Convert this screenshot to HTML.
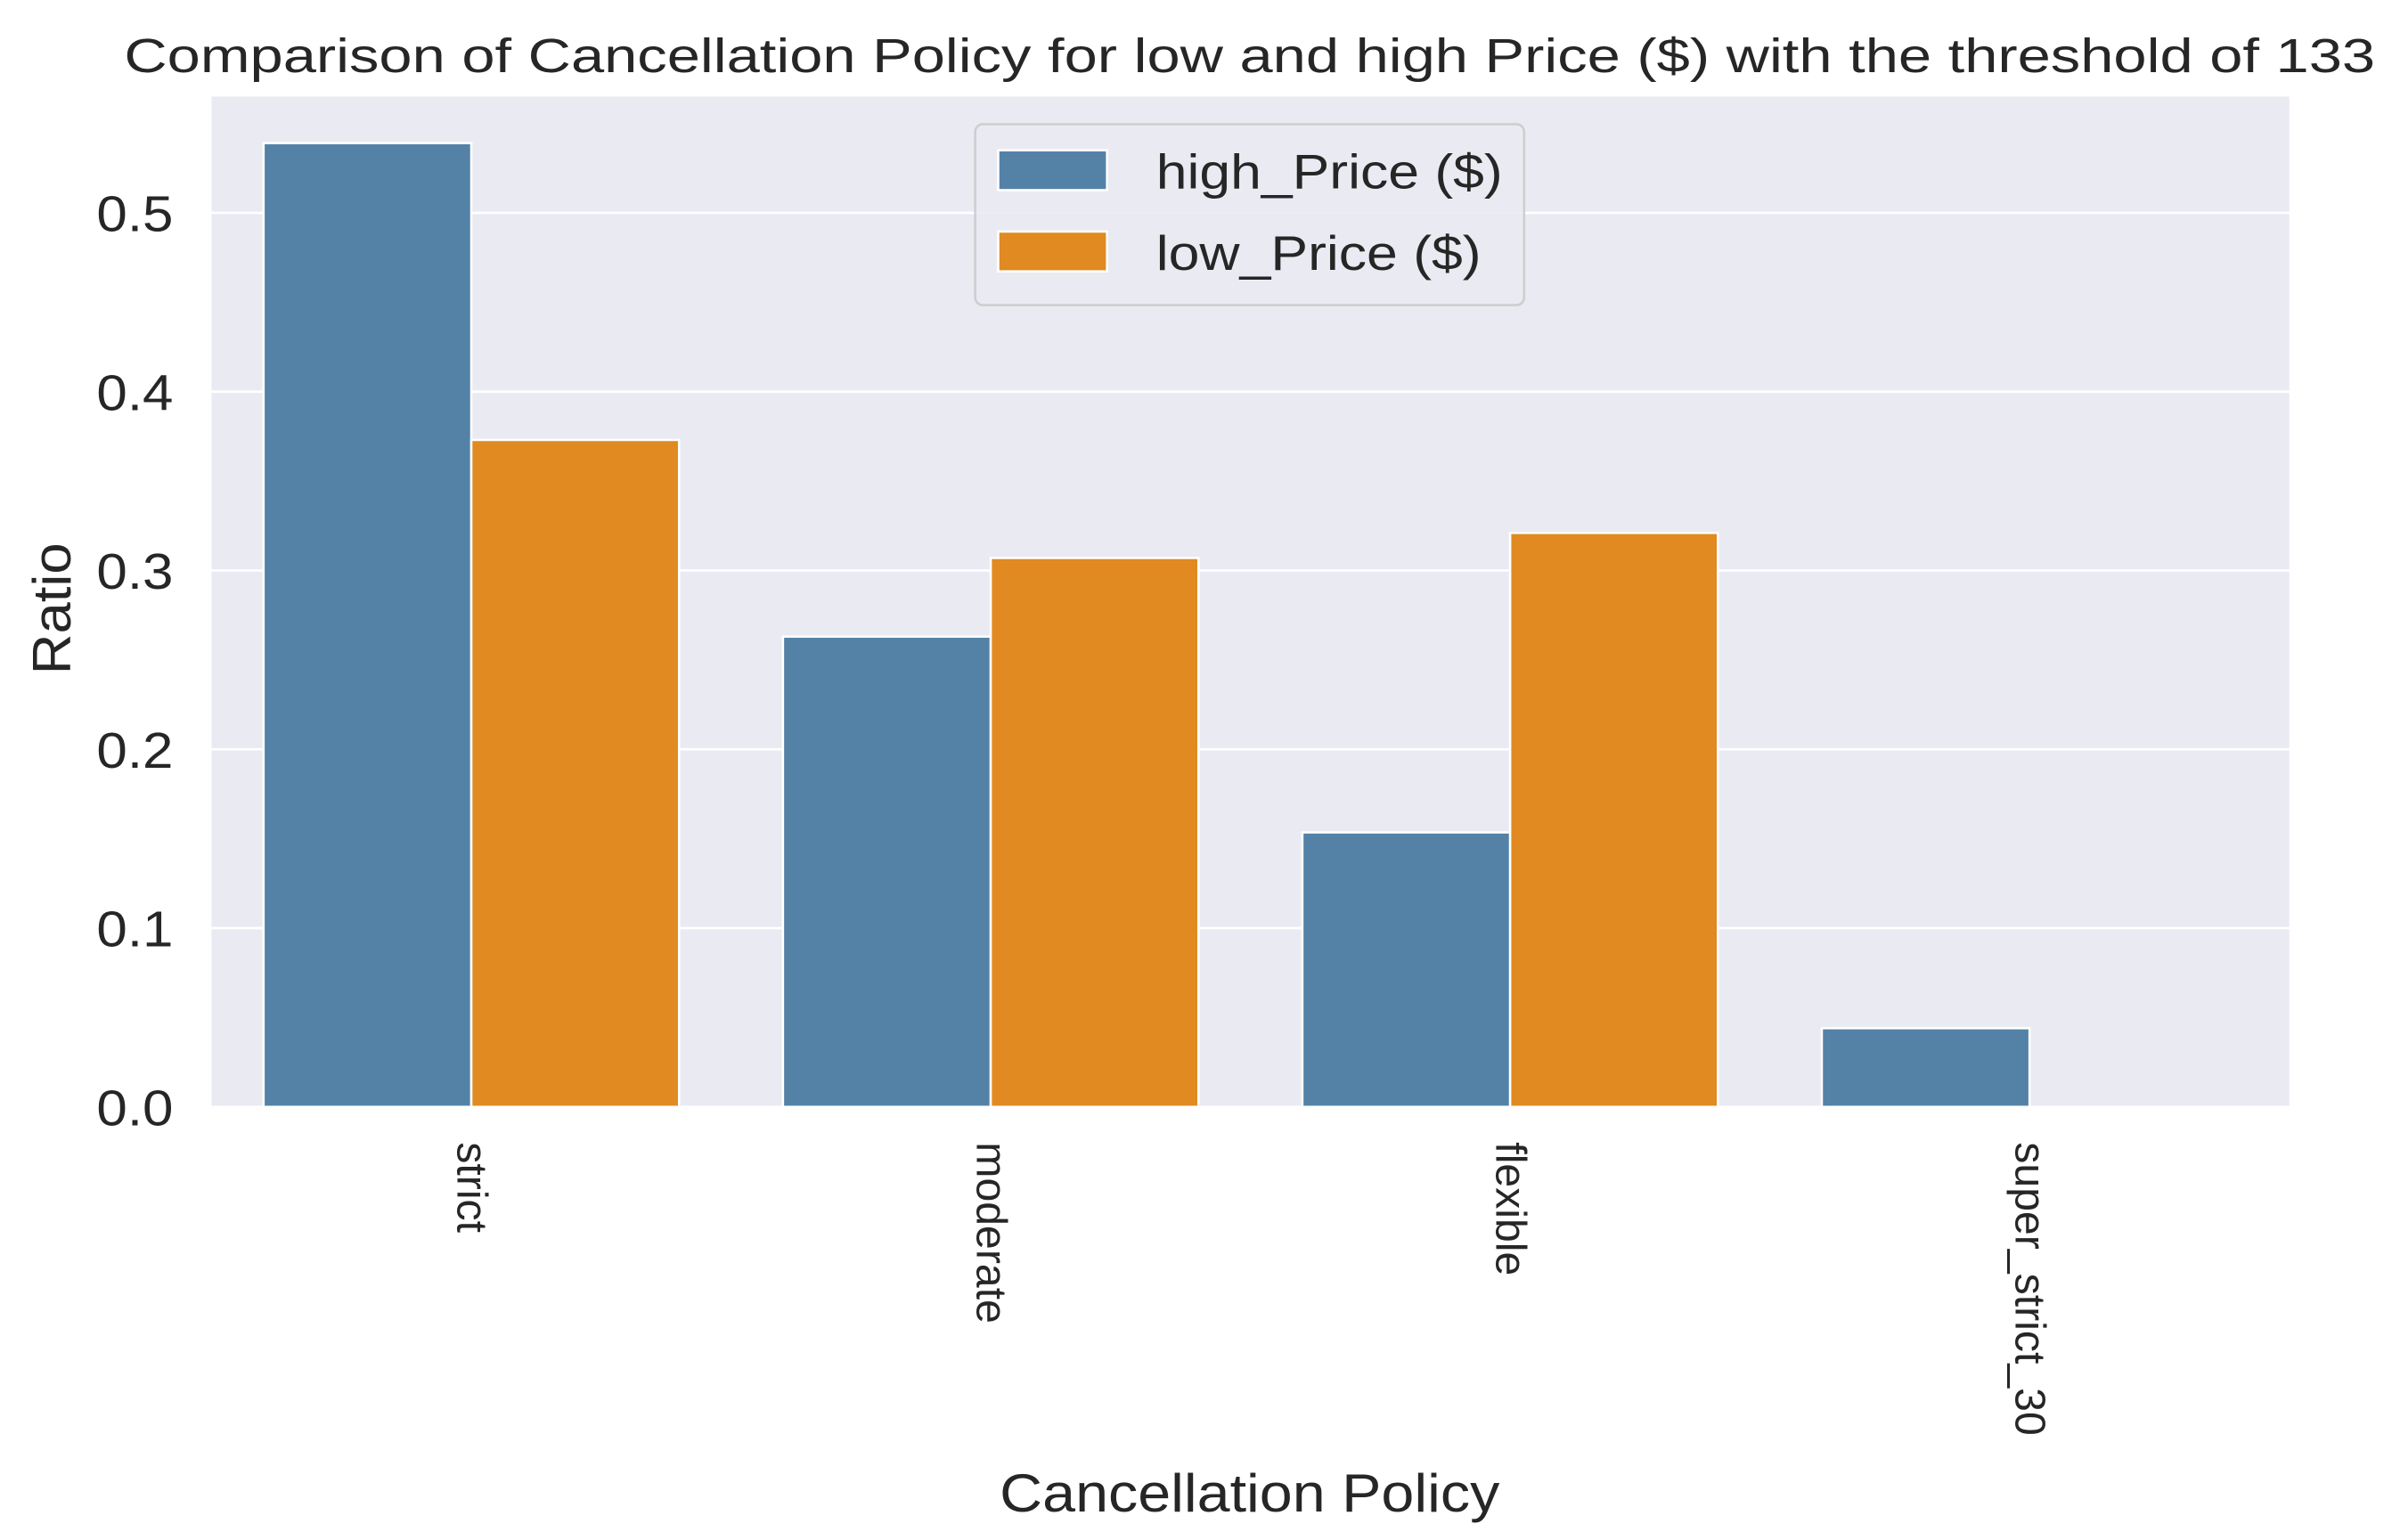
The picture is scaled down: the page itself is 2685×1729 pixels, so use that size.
<!DOCTYPE html>
<html><head><meta charset="utf-8"><style>html,body{margin:0;padding:0;background:#fff}svg{display:block}</style></head>
<body>
<svg id="chart" width="2685" height="1729" viewBox="0 0 1560 1004.5" xmlns="http://www.w3.org/2000/svg" font-family="'Liberation Sans', sans-serif" fill="#262626">
<text x="815" y="47" font-size="31" text-anchor="middle" textLength="1468" lengthAdjust="spacingAndGlyphs">Comparison of Cancellation Policy for low and high Price ($) with the threshold of 133</text>
<rect x="138" y="63" width="1355" height="659" fill="#eaeaf2"/>
<g id="grid"></g>
<g id="bars"></g>
<g id="yticks"></g>
<g id="xticks"></g>
<text transform="translate(46,397) rotate(-90)" font-size="35" text-anchor="middle" textLength="86" lengthAdjust="spacingAndGlyphs">Ratio</text>
<text x="815" y="986" font-size="35" text-anchor="middle" textLength="326" lengthAdjust="spacingAndGlyphs">Cancellation Policy</text>
<g>
<rect x="636" y="81" width="358" height="118" rx="5" fill="#eaeaf2" stroke="#cccccc" stroke-width="1.5" opacity="0.9"/>
<rect x="651" y="98" width="71" height="26" fill="#5482a6" stroke="#fff" stroke-width="1.5"/>
<text x="754" y="123" font-size="32" textLength="226" lengthAdjust="spacingAndGlyphs">high_Price ($)</text>
<rect x="651" y="151" width="71" height="26" fill="#e08a21" stroke="#fff" stroke-width="1.5"/>
<text x="754" y="176" font-size="32" textLength="212" lengthAdjust="spacingAndGlyphs">low_Price ($)</text>
</g>
</svg>
<script>
const categories = ["strict", "moderate", "flexible", "super_strict_30"];
const highValues = [0.539, 0.263, 0.1535, 0.044];
const lowValues = [0.373, 0.307, 0.321, 0];
const yTickValues = [0, 0.1, 0.2, 0.3, 0.4, 0.5];
const yTickLabels = ["0.0", "0.1", "0.2", "0.3", "0.4", "0.5"];

const NS = "http://www.w3.org/2000/svg";
const X0 = 138, X1 = 1493, Y0 = 722, YTOP = 63, YMAX = 0.565;
const yScale = v => Y0 - v / YMAX * (Y0 - YTOP);
const band = (X1 - X0) / categories.length;
const xCenter = i => X0 + band * (i + 0.5);
const barW = band * 0.4;

function mk(tag, attrs, parent) {
  const e = document.createElementNS(NS, tag);
  for (const k in attrs) e.setAttribute(k, attrs[k]);
  parent.appendChild(e);
  return e;
}
const grid = document.getElementById("grid");
const yt = document.getElementById("yticks");
yTickValues.forEach((v, i) => {
  const y = yScale(v);
  const l = mk("line", {x1: X0, x2: X1, y1: y, y2: y, stroke: "#fff", "stroke-width": 1.6}, grid);
  
  
  const t = mk("text", {x: 113, y: y + 12, "font-size": 33, "text-anchor": "end", textLength: 50, lengthAdjust: "spacingAndGlyphs"}, yt);
  t.textContent = yTickLabels[i];
  
  
});
const bars = document.getElementById("bars");
const xt = document.getElementById("xticks");
categories.forEach((c, i) => {
  const cx = xCenter(i);
  const hy = yScale(highValues[i]);
  const b1 = mk("rect", {x: cx - barW, y: hy, width: barW, height: Y0 - hy, fill: "#5482a6", stroke: "#fff", "stroke-width": 1.5}, bars);
  
  
  const ly = yScale(lowValues[i]);
  if (lowValues[i] > 0) {
    const b2 = mk("rect", {x: cx, y: ly, width: barW, height: Y0 - ly, fill: "#e08a21", stroke: "#fff", "stroke-width": 1.5}, bars);
    
    
  }
  const t = mk("text", {transform: `translate(${cx - 9},745) rotate(90)`, "font-size": 28}, xt);
  t.textContent = c;
  
  
});
</script>
</body></html>
